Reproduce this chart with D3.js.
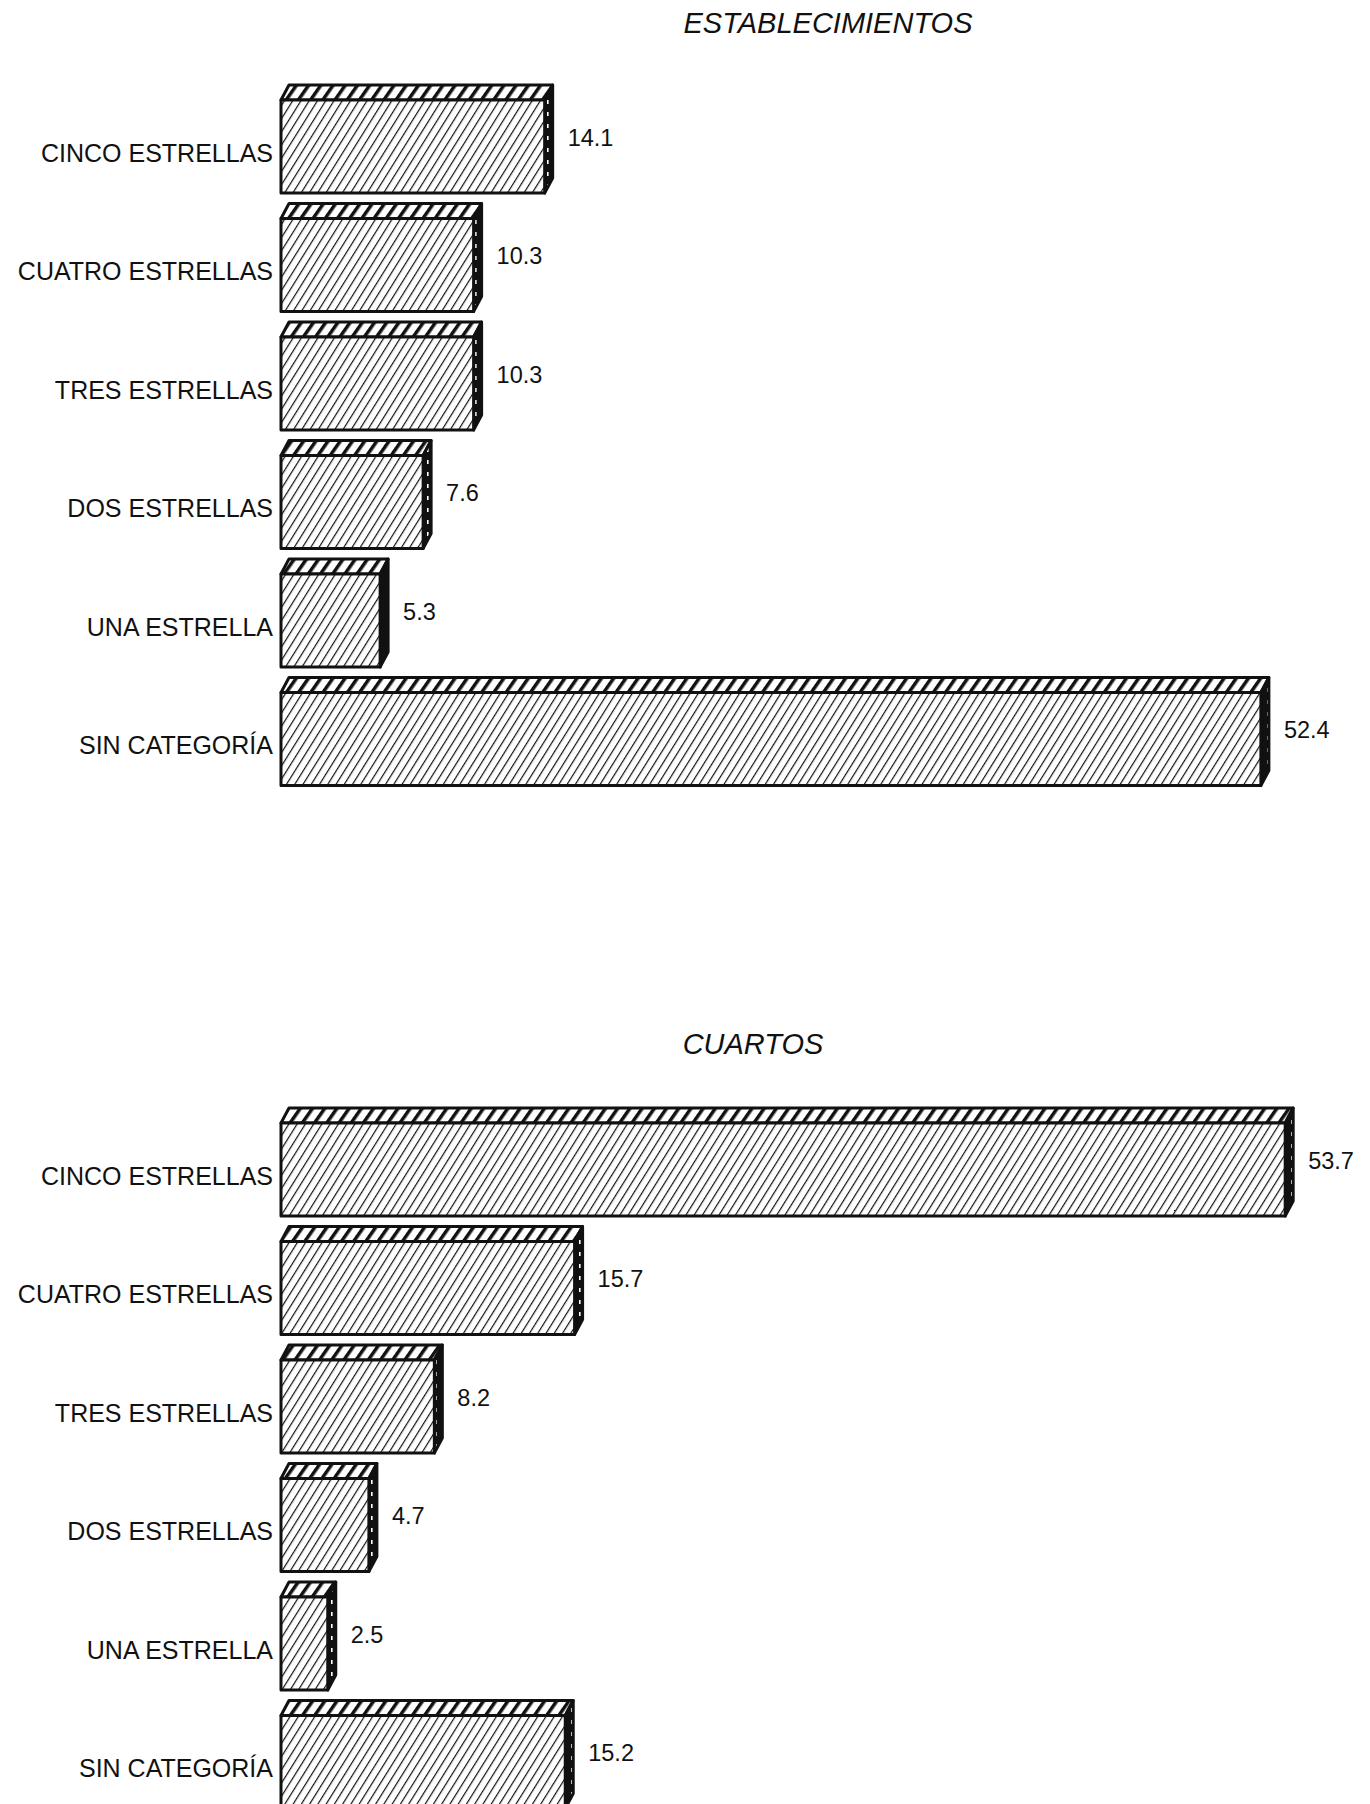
<!DOCTYPE html>
<html>
<head>
<meta charset="utf-8">
<script src="https://cdn.jsdelivr.net/npm/d3@7"></script>
<style>
  body { margin: 0; background: #fff; }
  svg { display: block; }
  text { font-family: "Liberation Sans", Arial, Helvetica, sans-serif; fill: #111; }
</style>
</head>
<body>
<svg id="chart" width="1370" height="1804"></svg>
<script>
const categories = ["CINCO ESTRELLAS", "CUATRO ESTRELLAS", "TRES ESTRELLAS", "DOS ESTRELLAS", "UNA ESTRELLA", "SIN CATEGORÍA"];
const establecimientos = [14.1, 10.3, 10.3, 7.6, 5.3, 52.4];
const cuartos = [53.7, 15.7, 8.2, 4.7, 2.5, 15.2];

const svg = d3.select("#chart");
const dx = 8, dy = 15;

// patterns for the faces
const defs = svg.append("defs");

const frontPat = defs.append("pattern")
  .attr("id", "hatchFront")
  .attr("patternUnits", "userSpaceOnUse")
  .attr("width", 7).attr("height", 7)
  .attr("patternTransform", "rotate(32)");
frontPat.append("rect").attr("width", 7).attr("height", 7).attr("fill", "#fff");
frontPat.append("line")
  .attr("x1", 0).attr("y1", 0).attr("x2", 0).attr("y2", 7)
  .attr("stroke", "#111").attr("stroke-width", 2.4);

const topPat = defs.append("pattern")
  .attr("id", "hatchTop")
  .attr("patternUnits", "userSpaceOnUse")
  .attr("width", 10).attr("height", 10)
  .attr("patternTransform", "rotate(35)");
topPat.append("rect").attr("width", 10).attr("height", 10).attr("fill", "#fff");
topPat.append("line")
  .attr("x1", 0).attr("y1", 0).attr("x2", 0).attr("y2", 10)
  .attr("stroke", "#111").attr("stroke-width", 7);

const sidePat = defs.append("pattern")
  .attr("id", "hatchSide")
  .attr("patternUnits", "userSpaceOnUse")
  .attr("width", 8).attr("height", 12);
sidePat.append("rect").attr("width", 8).attr("height", 12).attr("fill", "#111");
sidePat.append("rect").attr("x", 3).attr("y", 4).attr("width", 1.6).attr("height", 4).attr("fill", "#fff");

const x = d3.scaleLinear().domain([0, 60]).range([281, 281 + 60 * 18.7]);

function drawPanel(title, titleX, titleY, values, y0) {
  const y = d3.scaleBand()
    .domain(categories)
    .range([y0, y0 + 5 * 118.5 + 93])
    .paddingInner(25.5 / 118.5)
    .paddingOuter(0);

  const g = svg.append("g");

  g.append("text")
    .attr("x", titleX).attr("y", titleY)
    .attr("text-anchor", "middle")
    .style("font-size", "29px")
    .style("font-style", "italic")
    .text(title);

  const data = categories.map((c, i) => ({ cat: c, value: values[i] }));
  const bars = g.selectAll(".bar").data(data).enter().append("g").attr("class", "bar");

  bars.each(function(d) {
    const b = d3.select(this);
    const x0 = x(0), x1 = x(d.value);
    const yt = y(d.cat), h = y.bandwidth();

    // top face
    b.append("path")
      .attr("d", d3.line()([[x0, yt], [x0 + dx, yt - dy], [x1 + dx, yt - dy], [x1, yt]]) + "Z")
      .attr("fill", "url(#hatchTop)")
      .attr("stroke", "#111").attr("stroke-width", 3).attr("stroke-linejoin", "round");

    // side face
    b.append("path")
      .attr("d", d3.line()([[x1, yt], [x1 + dx, yt - dy], [x1 + dx, yt + h - dy], [x1, yt + h]]) + "Z")
      .attr("fill", "url(#hatchSide)")
      .attr("stroke", "#111").attr("stroke-width", 3).attr("stroke-linejoin", "round");

    // front face
    b.append("rect")
      .attr("x", x0).attr("y", yt)
      .attr("width", x1 - x0).attr("height", h)
      .attr("fill", "url(#hatchFront)")
      .attr("stroke", "#111").attr("stroke-width", 3).attr("stroke-linejoin", "round");
  });

  bars.append("text")
    .attr("x", 273)
    .attr("y", d => y(d.cat) + y.bandwidth() / 2 + 15)
    .attr("text-anchor", "end")
    .style("font-size", "25px")
    .text(d => d.cat);

  bars.append("text")
    .attr("x", d => x(d.value) + 23)
    .attr("y", d => y(d.cat) + y.bandwidth() / 2 - 1)
    .style("font-size", "23.5px")
    .text(d => d.value.toFixed(1));
}

drawPanel("ESTABLECIMIENTOS", 828, 33, establecimientos, 100);
drawPanel("CUARTOS", 753, 1054, cuartos, 1123);
</script>
</body>
</html>
